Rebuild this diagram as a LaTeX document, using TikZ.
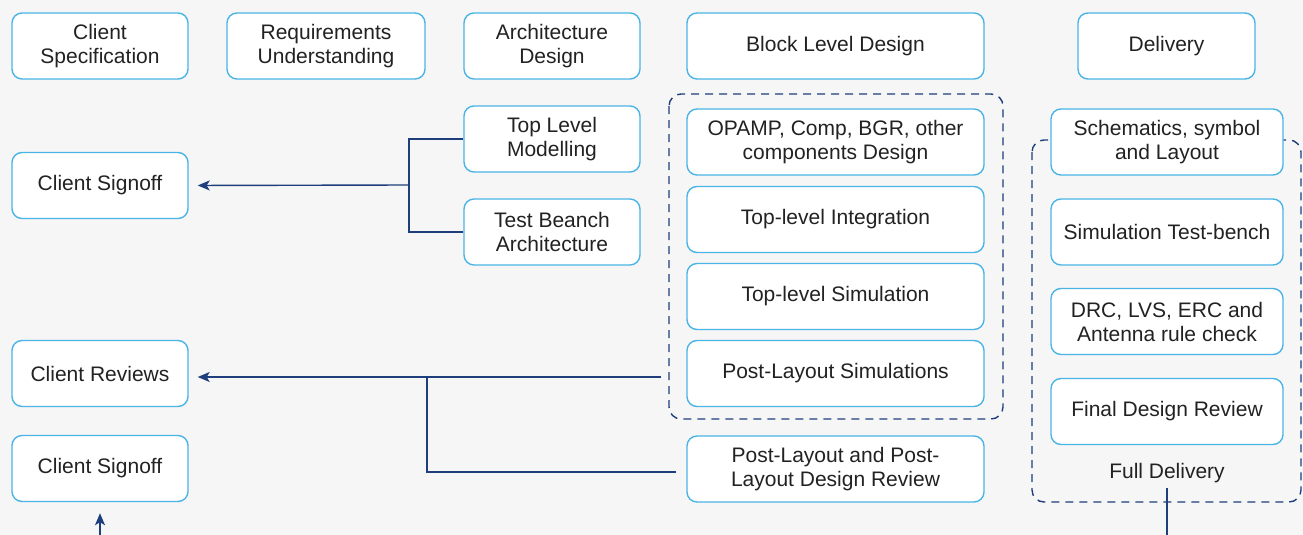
\documentclass[tikz,border=0pt]{standalone}
\usepackage{fontspec}
\setmainfont{Liberation Sans}
\usetikzlibrary{arrows.meta}
\definecolor{boxblue}{HTML}{4BB4E6}
\definecolor{navy}{HTML}{1E3F7C}
\definecolor{txtgray}{HTML}{222222}
\definecolor{bggray}{HTML}{F6F6F6}
\begin{document}
\begin{tikzpicture}[x=1pt,y=-1pt,
  blk/.style={draw=boxblue,fill=white,line width=1.4pt,rounded corners=10pt,
    minimum height=66pt,inner sep=0pt,text=txtgray,align=center,
    font=\fontsize{21}{24}\selectfont},
  wire/.style={navy,line width=1.4pt},
  grp/.style={navy,line width=1.4pt,dash pattern=on 8pt off 6pt,rounded corners=12pt},
  tip/.style={-{Stealth[length=12pt,width=10pt,inset=3pt]}}]
\useasboundingbox[fill=bggray] (0,0) rectangle (1303,535);
% group frames
\draw [grp] (669,94) rectangle (1003,419);
\draw [grp] (1032,140) rectangle (1301,502);
% header row
\node [blk,minimum width=176pt] (cspec) at (100,46) {Client\\Specification};
\node [blk,minimum width=198pt] (requ) at (326,46) {Requirements\\Understanding};
\node [blk,minimum width=176pt] (archd) at (552,46) {Architecture\\Design};
\node [blk,minimum width=297pt] (blkd) at (835.5,46) {Block Level Design};
\node [blk,minimum width=177pt] (deliv) at (1166.5,46) {Delivery};
% client column
\node [blk,minimum width=176pt] (csign) at (100,185.5) {Client Signoff};
\node [blk,minimum width=176pt] (crev) at (100,373.5) {Client Reviews};
\node [blk,minimum width=176pt] (csign2) at (100,468.5) {Client Signoff};
% architecture column
\node [blk,minimum width=176pt] (toplvl) at (552,139) {Top Level\\Modelling};
\node [blk,minimum width=176pt] (tbench) at (552,232) {Test Beanch\\Architecture};
% block level column
\node [blk,minimum width=297pt] (opamp) at (835.5,142) {OPAMP, Comp, BGR, other\\components Design};
\node [blk,minimum width=297pt] (tint) at (835.5,219.5) {Top-level Integration};
\node [blk,minimum width=297pt] (tsim) at (835.5,296.5) {Top-level Simulation};
\node [blk,minimum width=297pt] (plsim) at (835.5,373.5) {Post-Layout Simulations};
\node [blk,minimum width=297pt] (plrev) at (835.5,469) {Post-Layout and Post-\\Layout Design Review};
% delivery column
\node [blk,minimum width=232pt] (schem) at (1167,142) {Schematics, symbol\\and Layout};
\node [blk,minimum width=232pt] (simtb) at (1167,232) {Simulation Test-bench};
\node [blk,minimum width=232pt] (drc) at (1167,321.5) {DRC, LVS, ERC and\\Antenna rule check};
\node [blk,minimum width=232pt] (fdrev) at (1167,411.5) {Final Design Review};
\node [text=txtgray,inner sep=0pt,font=\fontsize{21}{24}\selectfont] (full) at (1167,473) {Full Delivery};
% connectors
\coordinate (jarch) at (409,185);
\coordinate (jpost) at (427,377);
\coordinate (jlow) at (427,472);
\coordinate (fdout) at (1167,535);
\coordinate (s2in) at (100,535);
\draw [wire] (toplvl.west) -| (jarch);
\draw [wire] (tbench.west) -| (jarch);
\draw [wire,tip,shorten >=9pt] (jarch) -- (csign.east);
\draw [wire,tip,shorten <=25pt,shorten >=9pt] (plsim.west |- jpost) -- (crev.east |- jpost);
\draw [wire,shorten <=10pt] (plrev.west |- jlow) -- (jlow) -- (jpost);
\draw [wire,shorten <=5pt] (full.south) -- (fdout);
\draw [wire,tip,shorten >=11pt] (s2in) -- (csign2.south);
\end{tikzpicture}
\end{document}
